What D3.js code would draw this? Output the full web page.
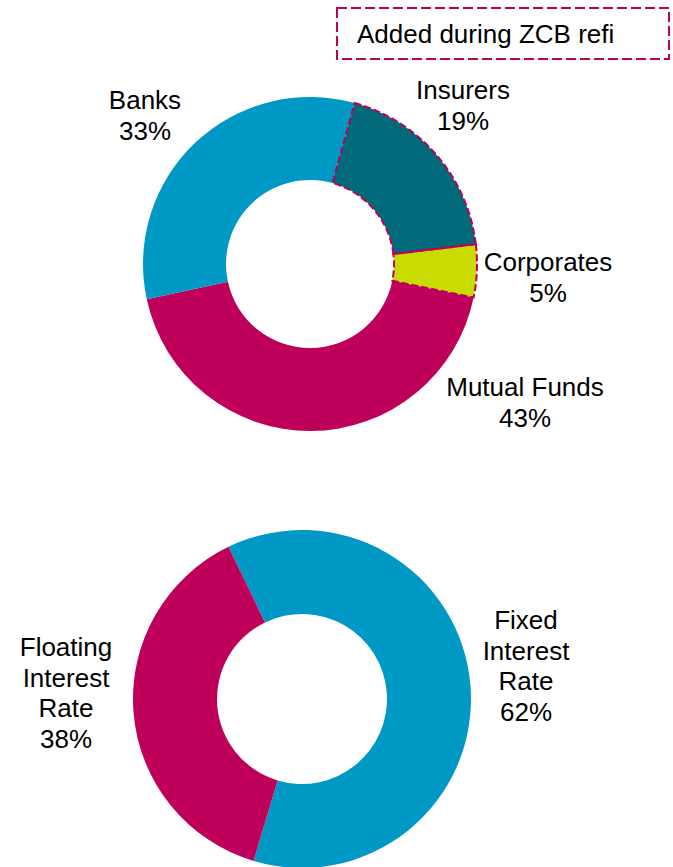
<!DOCTYPE html>
<html>
<head>
<meta charset="utf-8">
<script src="https://cdn.jsdelivr.net/npm/d3@7"></script>
<style>
  body { margin: 0; background: #fff; }
  svg { display: block; font-family: "Liberation Sans", Arial, sans-serif; }
</style>
</head>
<body>
<svg id="chart" width="673" height="867"></svg>
<script>
// investor split (top donut), clockwise from Insurers
var investors = ["Insurers", "Corporates", "Mutual Funds", "Banks"];
var investorShares = [18.8, 5.1, 43.4, 32.7];
var addedDuringRefi = ["Insurers", "Corporates"];

// rate split (bottom donut), clockwise from Fixed
var rateTypes = ["Fixed Interest Rate", "Floating Interest Rate"];
var rateShares = [61.8, 38.2];

var legendText = "Added during ZCB refi";

var colors = {
  "Insurers": "#00697A",
  "Corporates": "#C9DB00",
  "Mutual Funds": "#BE005A",
  "Banks": "#0098C4",
  "Fixed Interest Rate": "#0098C4",
  "Floating Interest Rate": "#BE005A"
};
var dashColor = "#BE005A";

var svg = d3.select("#chart");

function donut(names, values, cx, cy, rOut, rIn, startDeg) {
  var rows = names.map(function (n, i) { return {name: n, value: values[i]}; });
  var pie = d3.pie()
      .value(function (d) { return d.value; })
      .sort(null)
      .startAngle(startDeg * Math.PI / 180)
      .endAngle(startDeg * Math.PI / 180 + 2 * Math.PI);
  var arc = d3.arc().innerRadius(rIn).outerRadius(rOut);
  var g = svg.append("g").attr("transform", "translate(" + cx + "," + cy + ")");
  var arcs = pie(rows);
  g.selectAll("path.slice")
    .data(arcs)
    .enter().append("path")
    .attr("class", "slice")
    .attr("d", arc)
    .attr("fill", function (d) { return colors[d.data.name]; });
  return {g: g, arcs: arcs, arc: arc};
}

// ---- top donut ----
var topDonut = donut(investors, investorShares, 310, 264, 167, 84, 15.5);
// dashed outline on the slices added during the refi
topDonut.g.selectAll("path.dash")
  .data(topDonut.arcs.filter(function (d) { return addedDuringRefi.indexOf(d.data.name) >= 0; }))
  .enter().append("path")
  .attr("class", "dash")
  .attr("d", topDonut.arc)
  .attr("fill", "none")
  .attr("stroke", dashColor)
  .attr("stroke-width", 2)
  .attr("stroke-dasharray", "7,3");

// label anchor points (centre x, first baseline)
var topLabelPos = {
  "Banks": [145, 109],
  "Insurers": [463, 99],
  "Corporates": [548, 271],
  "Mutual Funds": [525, 396]
};
var lineH = 30.5;

function label(lines, x, y) {
  var t = svg.append("text")
    .attr("text-anchor", "middle")
    .attr("font-size", 26)
    .attr("fill", "#000");
  lines.forEach(function (s, i) {
    t.append("tspan").attr("x", x).attr("y", y + i * lineH).text(s);
  });
}

investors.forEach(function (n, i) {
  var p = topLabelPos[n];
  label([n, Math.round(investorShares[i]) + "%"], p[0], p[1]);
});

// legend box
svg.append("rect")
  .attr("x", 337).attr("y", 8)
  .attr("width", 332).attr("height", 51)
  .attr("fill", "none")
  .attr("stroke", dashColor)
  .attr("stroke-width", 2)
  .attr("stroke-dasharray", "10,4");
svg.append("text")
  .attr("x", 357).attr("y", 43)
  .attr("font-size", 26)
  .text(legendText);

// ---- bottom donut ----
donut(rateTypes, rateShares, 302, 699, 169, 85, -25.8);

var bottomLabelPos = {
  "Fixed Interest Rate": [526, 629],
  "Floating Interest Rate": [66, 656]
};
rateTypes.forEach(function (n, i) {
  var p = bottomLabelPos[n];
  var words = n.split(" ");
  label(words.concat([Math.round(rateShares[i]) + "%"]), p[0], p[1]);
});
</script>
</body>
</html>
